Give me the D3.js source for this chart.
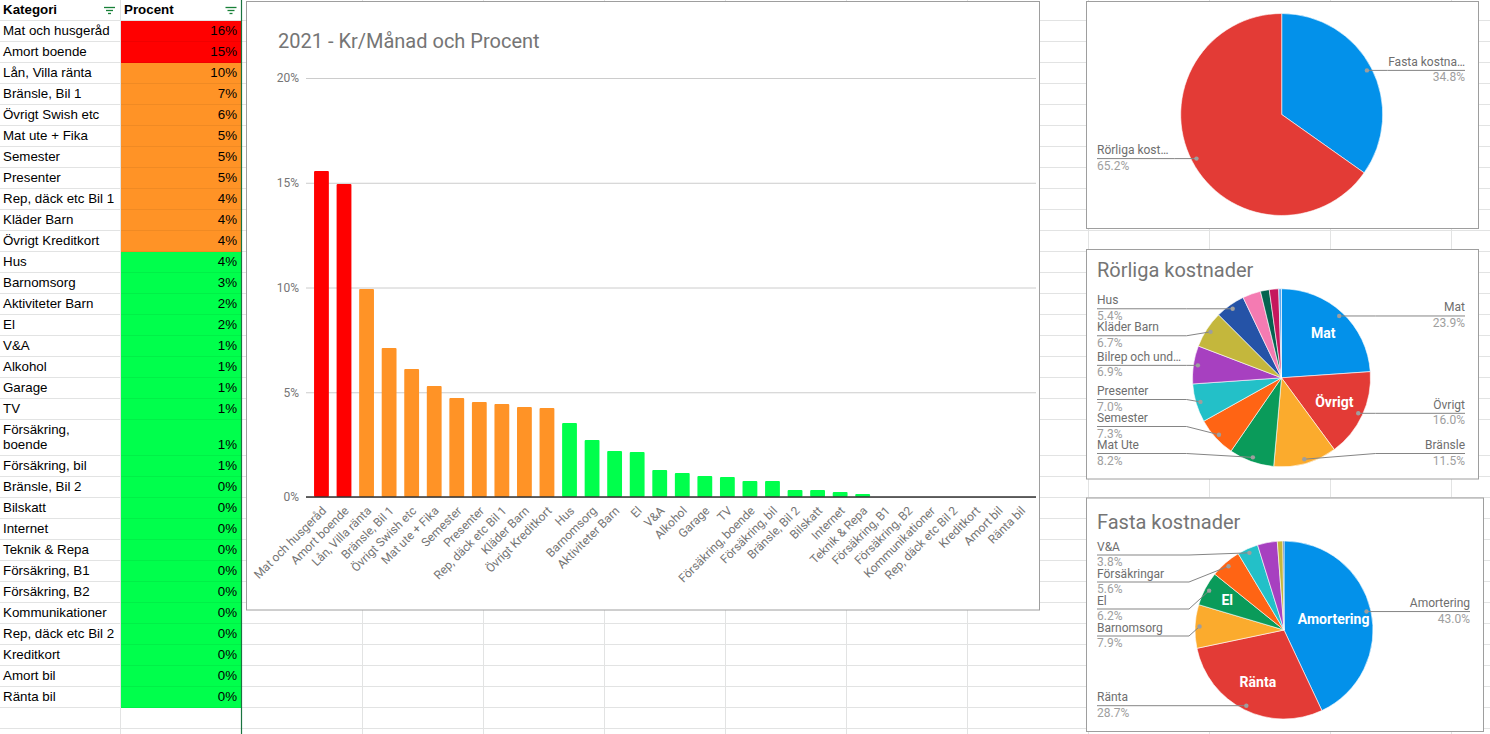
<!DOCTYPE html>
<html>
<head>
<meta charset="utf-8">
<script src="https://cdn.jsdelivr.net/npm/d3@7"></script>
<style>
  body { margin: 0; background: #fff; overflow: hidden; }
  svg { display: block; }
</style>
</head>
<body>
<svg width="1490" height="734"></svg>
<script>
// ---- data ----
categories = ["Mat och husgeråd", "Amort boende", "Lån, Villa ränta", "Bränsle, Bil 1", "Övrigt Swish etc",
  "Mat ute + Fika", "Semester", "Presenter", "Rep, däck etc Bil 1", "Kläder Barn", "Övrigt Kreditkort",
  "Hus", "Barnomsorg", "Aktiviteter Barn", "El", "V&A", "Alkohol", "Garage", "TV", "Försäkring, boende",
  "Försäkring, bil", "Bränsle, Bil 2", "Bilskatt", "Internet", "Teknik & Repa", "Försäkring, B1",
  "Försäkring, B2", "Kommunikationer", "Rep, däck etc Bil 2", "Kreditkort", "Amort bil", "Ränta bil"];
percent = [15.56, 14.94, 9.93, 7.11, 6.11, 5.30, 4.73, 4.53, 4.44, 4.30, 4.25, 3.53, 2.72, 2.20, 2.15,
  1.29, 1.15, 1.00, 0.95, 0.76, 0.76, 0.33, 0.33, 0.24, 0.14, 0, 0, 0, 0, 0, 0, 0];
yTicks = [0, 5, 10, 15, 20];
levels = [12, 4];  // red above 12%, orange above 4%, else green

totalNames = ["Fasta kostna…", "Rörliga kost…"];
totalValues = [34.8, 65.2];

rorligaNames = ["Mat", "Övrigt", "Bränsle", "Mat Ute", "Semester", "Presenter", "Bilrep och und…",
  "Kläder Barn", "Hus", "Aktiviteter Barn", "Alkohol", "Garage", "Teknik & Repa"];
rorligaValues = [23.9, 16.0, 11.5, 8.2, 7.3, 7.0, 6.9, 6.7, 5.4, 3.3, 1.6, 1.7, 0.5];
rorligaInner = ["Mat", "Övrigt"];

fastaNames = ["Amortering", "Ränta", "Barnomsorg", "El", "Försäkringar", "V&A", "TV", "Internet", "Bilskatt"];
fastaValues = [43.0, 28.7, 7.9, 6.2, 5.6, 3.8, 3.6, 1.0, 0.2];
fastaInner = ["Amortering", "Ränta", "El"];

levelColors = ["#ff0000", "#ff9326", "#00ff4c"];
pieColors = ["#0391ea", "#e33b36", "#fbab2d", "#0a9b5a", "#ff6414", "#23c0c8", "#a740c0",
  "#c4b73c", "#2553a7", "#f47bb2", "#046350", "#c5175d", "#5ba8ef"];

const W = 1490, H = 734;
const tableFont = "Arial, 'Liberation Sans', sans-serif";
const chartFont = "Roboto, 'Noto Sans', sans-serif";

const svg = d3.select("svg");

function levelColor(v) {
  if (v > levels[0]) return levelColors[0];
  if (v > levels[1]) return levelColors[1];
  return levelColors[2];
}

// ---- table layout (wrap long category names like Sheets does) ----
const measure = svg.append("text").attr("font-family", tableFont).attr("font-size", "13.33px");
function textWidth(s) { measure.text(s); return measure.node().getComputedTextLength(); }
function wrap(s, maxW) {
  const words = s.split(" ");
  let lines = [], cur = "";
  words.forEach(w => {
    const test = cur ? cur + " " + w : w;
    if (cur && textWidth(test) > maxW) { lines.push(cur); cur = w; } else cur = test;
  });
  lines.push(cur);
  return lines;
}
let rowY = 20;
const rows = categories.map((c, i) => {
  const lines = wrap(c, 113);
  const h = 21 + 15 * (lines.length - 1);
  const r = {name: c, value: percent[i], lines, y: rowY, h};
  rowY += h;
  return r;
});
measure.remove();

// ---- spreadsheet grid ----
const rowLines = [20].concat(rows.map(r => r.y + r.h));
for (let yy = rowY + 21; yy < H; yy += 21) rowLines.push(yy);
const colLines = d3.range(120, W, 121);

const grid = svg.append("g").attr("shape-rendering", "crispEdges");
grid.selectAll("line.h")
  .data(rowLines)
  .join("line")
    .attr("x1", 0).attr("x2", W)
    .attr("y1", d => d + 0.5).attr("y2", d => d + 0.5)
    .attr("stroke", "#e2e3e3");
grid.selectAll("line.v")
  .data(colLines)
  .join("line")
    .attr("x1", d => d + 0.5).attr("x2", d => d + 0.5)
    .attr("y1", 0).attr("y2", H)
    .attr("stroke", "#e2e3e3");

// ---- table ----
const table = svg.append("g").attr("font-family", tableFont).attr("font-size", "13.33px");
table.selectAll("rect.cell")
  .data(rows)
  .join("rect")
    .attr("x", 121).attr("y", d => d.y + 1)
    .attr("width", 120).attr("height", d => d.h)
    .attr("fill", d => levelColor(d.value));
table.selectAll("line.sep")
  .data(rows)
  .join("line")
    .attr("x1", 121).attr("x2", 241)
    .attr("y1", d => d.y + d.h + 0.5).attr("y2", d => d.y + d.h + 0.5)
    .attr("stroke", "rgba(0,0,0,0.06)")
    .attr("shape-rendering", "crispEdges");

const catText = table.selectAll("text.cat")
  .data(rows)
  .join("text")
    .attr("x", 3)
    .attr("fill", "#000");
catText.selectAll("tspan")
  .data(d => d.lines.map((l, k) => ({l, k, d})))
  .join("tspan")
    .attr("x", 3)
    .attr("y", t => t.d.y + t.d.h - 6 - (t.d.lines.length - 1 - t.k) * 15)
    .text(t => t.l);

table.selectAll("text.val")
  .data(rows)
  .join("text")
    .attr("x", 237)
    .attr("y", d => d.y + d.h - 6)
    .attr("text-anchor", "end")
    .attr("fill", "#000")
    .text(d => Math.round(d.value) + "%");

table.append("text").attr("x", 3).attr("y", 13.5).attr("font-weight", "bold").text("Kategori");
table.append("text").attr("x", 124).attr("y", 13.5).attr("font-weight", "bold").text("Procent");

[109.5, 231].forEach(cx => {
  [[7.5, 11], [10.5, 7], [13.5, 3]].forEach(([ly, w]) => {
    table.append("line")
      .attr("x1", cx - w / 2).attr("x2", cx + w / 2)
      .attr("y1", ly).attr("y2", ly)
      .attr("stroke", "#188038").attr("stroke-width", 1.3);
  });
});

// frozen column divider
svg.append("line")
  .attr("x1", 241.5).attr("x2", 241.5).attr("y1", 0).attr("y2", H)
  .attr("stroke", "#1a7340").attr("stroke-width", 1.2);

// ---- bar chart ----
const bc = svg.append("g").attr("font-family", chartFont);
bc.append("rect")
  .attr("x", 246.5).attr("y", 1.5).attr("width", 793).attr("height", 608.5)
  .attr("fill", "#fff").attr("stroke", "#9e9e9e");
bc.append("text")
  .attr("x", 278).attr("y", 48)
  .attr("font-size", 20).attr("fill", "#757575")
  .text("2021 - Kr/Månad och Procent");

const x = d3.scaleBand()
    .domain(categories)
    .range([306, 1036])
    .paddingInner(0.343)
    .paddingOuter(0.357);
const y = d3.scaleLinear()
    .domain([0, 20])
    .range([497, 78]);

bc.append("g")
    .attr("transform", "translate(306,0)")
    .call(d3.axisLeft(y).tickValues(yTicks).tickFormat(d => d + "%").tickSize(-730).tickPadding(7))
    .call(g => g.select(".domain").remove())
    .call(g => g.selectAll(".tick line").attr("stroke", "#cccccc"))
    .call(g => g.selectAll(".tick text")
      .attr("fill", "#757575").attr("font-size", 12).attr("font-family", chartFont));

bc.append("g")
  .selectAll("rect")
  .data(categories.map((c, i) => ({c, v: percent[i]})).filter(d => d.v > 0))
  .join("rect")
    .attr("x", d => x(d.c))
    .attr("y", d => y(d.v))
    .attr("width", x.bandwidth())
    .attr("height", d => y(0) - y(d.v))
    .attr("rx", 1)
    .attr("fill", d => levelColor(d.v));

bc.append("line")
  .attr("x1", 306).attr("x2", 1036)
  .attr("y1", y(0)).attr("y2", y(0))
  .attr("stroke", "#333").attr("stroke-width", 1.4);

bc.append("g")
  .selectAll("text")
  .data(categories)
  .join("text")
    .attr("transform", d => `translate(${x(d) + x.bandwidth() / 2 + 5.5},511.5) rotate(-45)`)
    .attr("text-anchor", "end")
    .attr("font-size", 12)
    .attr("fill", "#757575")
    .text(d => d);

// ---- pies ----
function drawPie(cfg, names, values, inner) {
  const g = svg.append("g").attr("font-family", chartFont);
  g.append("rect")
    .attr("x", cfg.x0 + 0.5).attr("y", cfg.y0 + 0.5)
    .attr("width", cfg.x1 - cfg.x0).attr("height", cfg.y1 - cfg.y0)
    .attr("fill", "#fff").attr("stroke", "#9e9e9e");
  if (cfg.title) {
    g.append("text")
      .attr("x", cfg.x0 + 11).attr("y", cfg.titleY)
      .attr("font-size", 20).attr("fill", "#757575")
      .text(cfg.title);
  }
  const arcs = d3.pie().sort(null).value(d => d)(values);
  const arc = d3.arc().innerRadius(0).outerRadius(cfg.r);
  const pg = g.append("g").attr("transform", `translate(${cfg.cx},${cfg.cy})`);
  pg.selectAll("path")
    .data(arcs)
    .join("path")
      .attr("d", arc)
      .attr("fill", (d, i) => pieColors[i])
      .attr("stroke", "#fff")
      .attr("stroke-width", 0.6);

  const total = d3.sum(values);
  const fmt = d3.format(".1%");

  // labels with leader lines
  const labels = arcs.map((d, i) => {
    const a = (d.startAngle + d.endAngle) / 2;
    return {
      name: names[i], share: d.value / total,
      px: cfg.cx + Math.sin(a) * cfg.r * 0.95,
      py: cfg.cy - Math.cos(a) * cfg.r * 0.95,
      right: a < Math.PI
    };
  }).filter(l => l.share >= 0.037);

  const minY = cfg.y0 + 57.5, maxY = cfg.y1 - 25, gap = 27;
  [true, false].forEach(side => {
    const ls = labels.filter(l => l.right === side).sort((a, b) => a.py - b.py);
    ls.forEach(l => l.ly = Math.max(minY, Math.min(maxY, l.py)));
    for (let i = 1; i < ls.length; i++) ls[i].ly = Math.max(ls[i].ly, ls[i - 1].ly + gap);
    for (let i = ls.length - 1; i >= 0; i--) {
      const lim = i === ls.length - 1 ? maxY : ls[i + 1].ly - gap;
      ls[i].ly = Math.min(ls[i].ly, lim);
    }
  });

  const lg = g.append("g").attr("font-size", 12);
  labels.forEach(l => {
    const tx = l.right ? cfg.x1 - 13 : cfg.x0 + 11;
    const bx = l.right ? cfg.cx + cfg.r + 5 : cfg.cx - cfg.r - 6;
    lg.append("polyline")
      .attr("points", [[tx, l.ly], [bx, l.ly], [l.px, l.py]].map(p => p.join(",")).join(" "))
      .attr("fill", "none").attr("stroke", "#858585").attr("stroke-width", 1);
    lg.append("circle")
      .attr("cx", l.px).attr("cy", l.py).attr("r", 2.2)
      .attr("fill", "#9e9e9e");
    const anchor = l.right ? "end" : "start";
    lg.append("text")
      .attr("x", tx).attr("y", l.ly - 4.5)
      .attr("text-anchor", anchor).attr("fill", "#6e6e6e")
      .text(l.name);
    lg.append("text")
      .attr("x", tx).attr("y", l.ly + 11)
      .attr("text-anchor", anchor).attr("fill", "#9e9e9e")
      .text(fmt(l.share));
  });

  // labels inside slices
  arcs.forEach((d, i) => {
    if (!inner.includes(names[i])) return;
    const a = (d.startAngle + d.endAngle) / 2;
    const t = pg.append("text")
      .attr("text-anchor", "middle")
      .attr("dy", "0.35em")
      .attr("font-size", 14)
      .attr("font-weight", "bold")
      .attr("fill", "#fff")
      .text(names[i]);
    const w = t.node().getComputedTextLength();
    const k = Math.max(0.5, 0.75 - w / 400);
    t.attr("x", Math.sin(a) * cfg.r * k).attr("y", -Math.cos(a) * cfg.r * k);
  });
}

drawPie({x0: 1086, y0: 1, x1: 1478, y1: 228, cx: 1281.7, cy: 114.5, r: 101},
  totalNames, totalValues, []);
drawPie({x0: 1086, y0: 249, x1: 1478, y1: 478.5, cx: 1281.5, cy: 377.8, r: 89,
  title: "Rörliga kostnader", titleY: 276.5}, rorligaNames, rorligaValues, rorligaInner);
drawPie({x0: 1086, y0: 497.5, x1: 1483, y1: 731, cx: 1284, cy: 630, r: 89,
  title: "Fasta kostnader", titleY: 528.5}, fastaNames, fastaValues, fastaInner);
</script>
</body>
</html>
